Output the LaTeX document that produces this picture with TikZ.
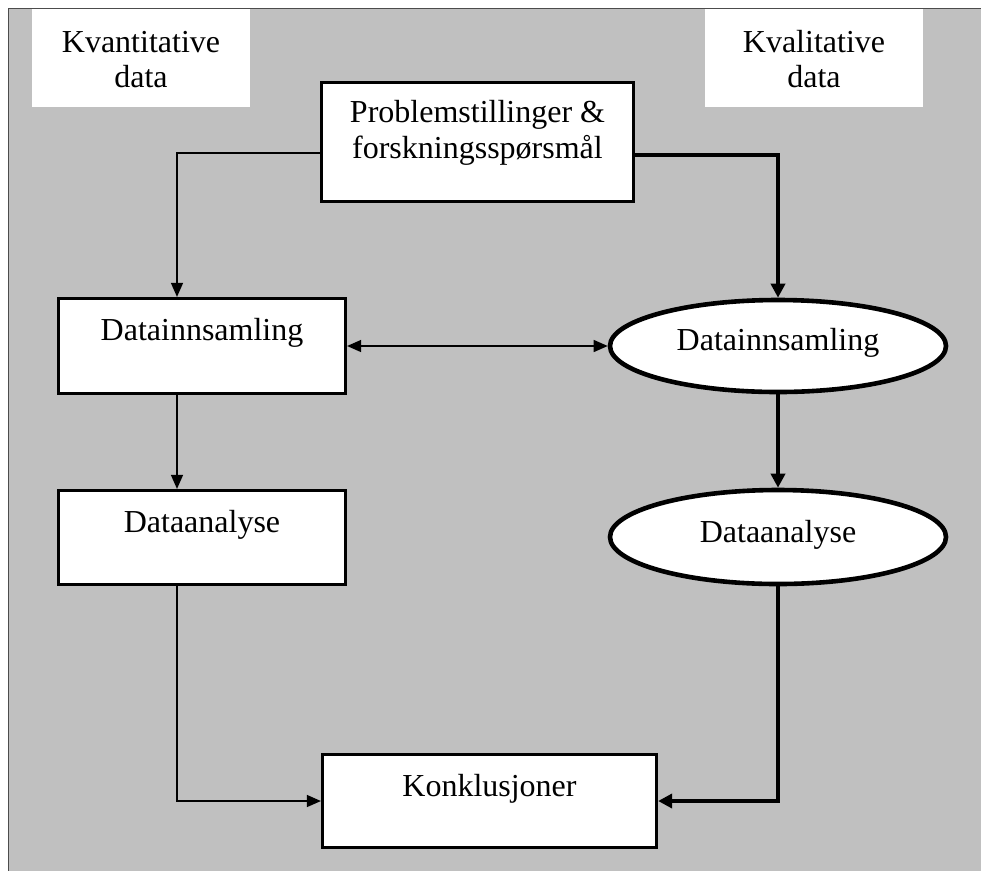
\documentclass[tikz,border=0pt]{standalone}
\usepackage{fontspec}
\setmainfont{Liberation Serif}
\usetikzlibrary{shapes.geometric,arrows.meta,calc}

\definecolor{bggray}{HTML}{C0C0C0}
\tikzset{
  whitelabel/.style={fill=white, draw=none, minimum width=218pt, minimum height=98pt, inner sep=0pt},
  quantbox/.style={rectangle, draw=black, fill=white, line width=3.2pt, inner sep=0pt},
  qualoval/.style={ellipse, draw=black, fill=white, line width=4.6pt, inner sep=0pt},
  txt/.style={anchor=base, inner sep=0pt, font=\fontsize{32}{36}\selectfont},
  thinlink/.style={draw=black, line width=1.3pt, -{Triangle[length=14pt,width=12pt]}},
  thinboth/.style={draw=black, line width=1.3pt, {Triangle[length=14pt,width=12pt]}-{Triangle[length=14pt,width=12pt]}},
  thicklink/.style={draw=black, line width=4.6pt, line join=miter, -{Triangle[length=14pt,width=14pt]}}
}

\begin{document}
\begin{tikzpicture}[x=1pt, y=-1pt]
  \useasboundingbox (0,0) rectangle (981,871);

  % grey canvas with its top and left border
  \fill[bggray] (8,8) rectangle (981,871);
  \draw[line width=1.2pt, black!70] (981,8.5) -- (8.5,8.5) -- (8.5,871);

  % column headers
  \node[whitelabel] (kvant) at (141,58) {};
  \node[whitelabel] (kval) at (814,58) {};
  \node[txt] (kvant1) at (141,52) {Kvantitative};
  \node[txt] (kvant2) at (141,87) {data};
  \node[txt] (kval1) at (814,52) {Kvalitative};
  \node[txt] (kval2) at (814,87) {data};

  % shapes
  \node[quantbox, minimum width=312pt, minimum height=119pt] (prob) at (477.5,142) {};
  \node[quantbox, minimum width=287pt, minimum height=95pt] (dl) at (202,346) {};
  \node[quantbox, minimum width=287pt, minimum height=94pt] (da) at (202,537.5) {};
  \node[quantbox, minimum width=334pt, minimum height=93pt] (konk) at (489.5,801) {};
  \node[qualoval, minimum width=336pt, minimum height=92pt] (el1) at (778,346) {};
  \node[qualoval, minimum width=336pt, minimum height=94pt] (el2) at (778,537) {};

  % texts
  \node[txt] (probt1) at (477.5,122) {Problemstillinger \&};
  \node[txt] (probt2) at (477.5,158) {forskningsspørsmål};
  \node[txt] (dlt) at (202,340) {Datainnsamling};
  \node[txt] (dat) at (202,532) {Dataanalyse};
  \node[txt] (el1t) at (778,350) {Datainnsamling};
  \node[txt] (el2t) at (778,542) {Dataanalyse};
  \node[txt] (konkt) at (489.5,796) {Konklusjoner};

  % guide column and rows for the connectors
  \coordinate (lx) at (177,0);
  \coordinate (py1) at (0,153);
  \coordinate (py2) at (0,155);

  % quantitative track
  \draw[thinlink] (prob.west |- py1) -| (dl.north -| lx);
  \draw[thinlink] (dl.south -| lx) -- (da.north -| lx);
  \draw[thinlink] (da.south -| lx) |- (konk.west);

  % qualitative track
  \draw[thicklink] (prob.east |- py2) -| (el1.north);
  \draw[thicklink] (el1.south) -- (el2.north);
  \draw[thicklink] (el2.south) |- (konk.east);

  % exchange between the two data collections
  \draw[thinboth] (dl.east) -- (el1.west);
\end{tikzpicture}
\end{document}
